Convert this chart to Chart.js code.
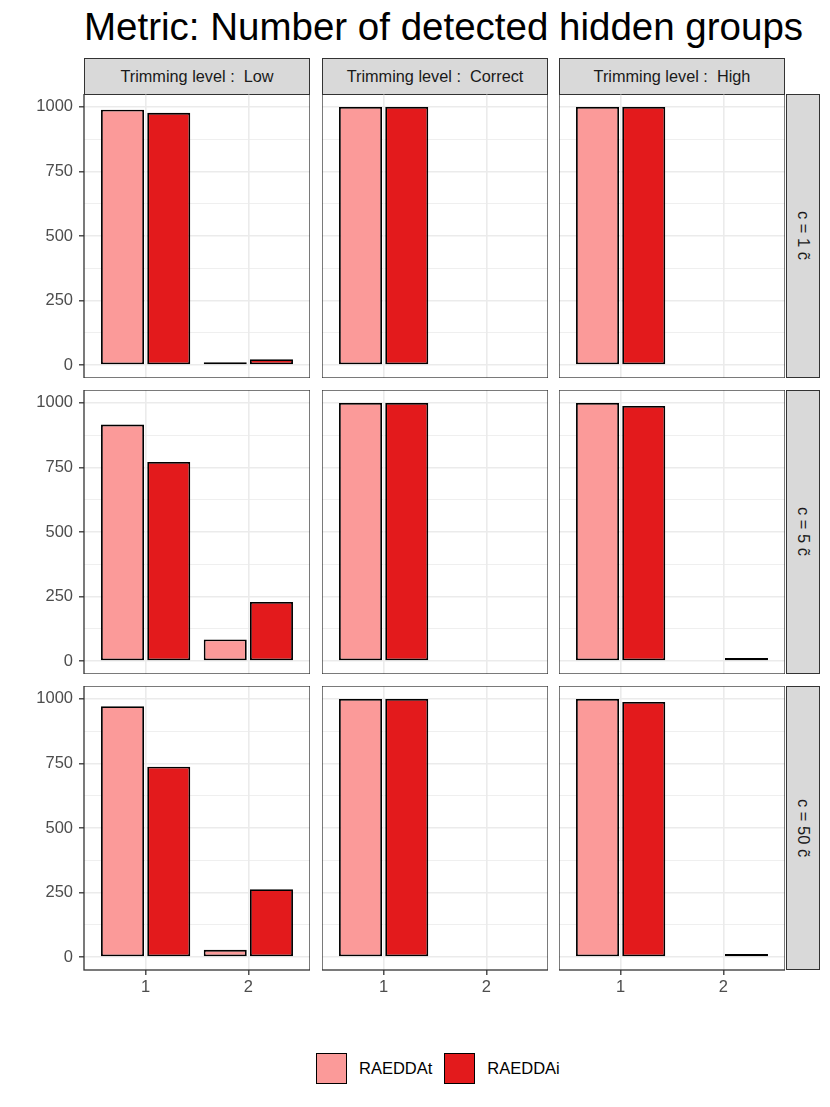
<!DOCTYPE html>
<html>
<head>
<meta charset="utf-8">
<script src="https://cdn.jsdelivr.net/npm/chart.js@4.4.1/dist/chart.umd.min.js"></script>
<style>
  body { margin: 0; background: #fff; font-family: "Liberation Sans", Arial, sans-serif; }
  #page { position: relative; width: 830px; height: 1107px; overflow: hidden; }
  .title { position: absolute; left: 84px; top: 8px; font-size: 38.5px; line-height: 1; color: #000; white-space: nowrap; }
  .strip { position: absolute; box-sizing: border-box; background: #d9d9d9; border: 1.3px solid #333;
           display: flex; align-items: center; justify-content: center; color: #1a1a1a; font-size: 16.3px; white-space: pre; }
  .strip.side span { writing-mode: vertical-rl; font-size: 16.5px; }
  .panel { position: absolute; }
  .legend { position: absolute; left: 316px; top: 1053px; display: flex; align-items: center; font-size: 16.5px; color: #000; }
  .key { width: 31px; height: 31px; box-sizing: border-box; border: 1.6px solid #000; margin-right: 12px; }
  .legend span { margin-right: 12px; }
</style>
</head>
<body>
<div id="page">
  <div class="title">Metric: Number of detected hidden groups</div>
</div>
<script>
// Data
const trimLevels = ['Low', 'Correct', 'High'];
const cLabels = ['c = 1 c\u0303', 'c = 5 c\u0303', 'c = 50 c\u0303'];
const groups = [1, 2];
const seriesNames = ['RAEDDAt', 'RAEDDAi'];
const seriesColors = ['#FB9A99', '#E31A1C'];
const yTicks = [0, 125, 250, 375, 500, 625, 750, 875, 1000];

// counts per trimming level [Low, Correct, High], each [group 1, group 2]
const raeddatC1 = [[989, 11], [1000, null], [1000, null]];
const raeddaiC1 = [[977, 23], [1000, null], [1000, null]];
const raeddatC5 = [[916, 84], [1000, null], [1000, null]];
const raeddaiC5 = [[771, 229], [1000, null], [988, 12]];
const raeddatC50 = [[972, 28], [1000, null], [1000, null]];
const raeddaiC50 = [[737, 263], [1000, null], [988, 12]];

const rowsData = [
  [raeddatC1, raeddaiC1],
  [raeddatC5, raeddaiC5],
  [raeddatC50, raeddaiC50]
];

// Layout
const colLeft = [84, 322, 559];
const rowTop = [94, 390, 686];
const panelW = 226, panelH = 284;
const axisW = 84, axisH = 36;
const page = document.getElementById('page');

Chart.defaults.font.family = '"Liberation Sans", Arial, sans-serif';

const borderPlugin = {
  id: 'panelBorder',
  afterDraw(chart) {
    const a = chart.chartArea;
    const ctx = chart.ctx;
    ctx.save();
    ctx.strokeStyle = '#333';
    ctx.lineWidth = 1.3;
    ctx.strokeRect(a.left, a.top, a.right - a.left, a.bottom - a.top);
    ctx.restore();
  }
};

const noPad = s => { s.paddingTop = 0; s.paddingBottom = 0; s.paddingLeft = 0; s.paddingRight = 0; };

// top strips
trimLevels.forEach((t, c) => {
  const s = document.createElement('div');
  s.className = 'strip';
  s.style.left = colLeft[c] + 'px';
  s.style.top = '58px';
  s.style.width = panelW + 'px';
  s.style.height = '37px';
  s.textContent = 'Trimming level :  ' + t;
  page.appendChild(s);
});

// side strips
cLabels.forEach((lab, r) => {
  const s = document.createElement('div');
  s.className = 'strip side';
  s.style.left = '786px';
  s.style.top = rowTop[r] + 'px';
  s.style.width = '34px';
  s.style.height = panelH + 'px';
  const sp = document.createElement('span');
  sp.textContent = lab;
  s.appendChild(sp);
  page.appendChild(s);
});

rowsData.forEach((row, r) => {
  trimLevels.forEach((t, c) => {
    const first = c === 0, last = r === 2;
    const w = panelW + (first ? axisW : 0);
    const h = panelH + (last ? axisH : 0);
    const box = document.createElement('div');
    box.className = 'panel';
    box.style.left = (colLeft[c] - (first ? axisW : 0)) + 'px';
    box.style.top = rowTop[r] + 'px';
    const cv = document.createElement('canvas');
    cv.width = w; cv.height = h;
    cv.style.width = w + 'px'; cv.style.height = h + 'px';
    box.appendChild(cv);
    page.appendChild(box);

    new Chart(cv, {
      type: 'bar',
      data: {
        datasets: seriesNames.map((name, k) => ({
          label: name,
          data: groups.map((g, i) => ({ x: g, y: row[k][c][i] })),
          backgroundColor: seriesColors[k],
          borderColor: '#000',
          borderWidth: 1.8,
          borderSkipped: false,
          categoryPercentage: 0.9,
          barPercentage: 0.93
        }))
      },
      options: {
        responsive: false,
        animation: false,
        layout: { padding: 0 },
        plugins: { legend: { display: false }, tooltip: { enabled: false } },
        scales: {
          x: {
            type: 'linear',
            min: 0.4, max: 2.6,
            offset: false,
            afterBuildTicks: s => { s.ticks = groups.map(v => ({ value: v })); },
            afterFit: s => { s.height = last ? axisH : 0; noPad(s); },
            border: { display: false },
            grid: {
              offset: false,
              color: '#ebebeb', lineWidth: 1.6,
              drawTicks: last, tickLength: 5, tickColor: '#333', tickWidth: 1.3
            },
            ticks: {
              display: last, padding: 3, color: '#4d4d4d',
              font: { size: 16.5 },
              maxRotation: 0,
              callback: v => String(v)
            }
          },
          y: {
            type: 'linear',
            min: -50, max: 1050,
            afterBuildTicks: s => { s.ticks = yTicks.map(v => ({ value: v })); },
            afterFit: s => { s.width = first ? axisW : 0; noPad(s); },
            border: { display: false },
            grid: {
              color: '#ebebeb',
              lineWidth: ctx => (ctx.tick && ctx.tick.value % 250 === 0) ? 1.6 : 0.8,
              drawTicks: first, tickLength: 5,
              tickColor: ctx => (ctx.tick && ctx.tick.value % 250 === 0) ? '#333' : 'rgba(0,0,0,0)',
              tickWidth: 1.3
            },
            ticks: {
              display: first, padding: 6, color: '#4d4d4d',
              font: { size: 16.5 },
              callback: v => (v % 250 === 0 ? String(v) : '')
            }
          }
        }
      },
      plugins: [borderPlugin]
    });
  });
});

// legend
const leg = document.createElement('div');
leg.className = 'legend';
seriesNames.forEach((name, k) => {
  const key = document.createElement('div');
  key.className = 'key';
  key.style.background = seriesColors[k];
  const lab = document.createElement('span');
  lab.textContent = name;
  leg.appendChild(key);
  leg.appendChild(lab);
});
page.appendChild(leg);
</script>
</body>
</html>
